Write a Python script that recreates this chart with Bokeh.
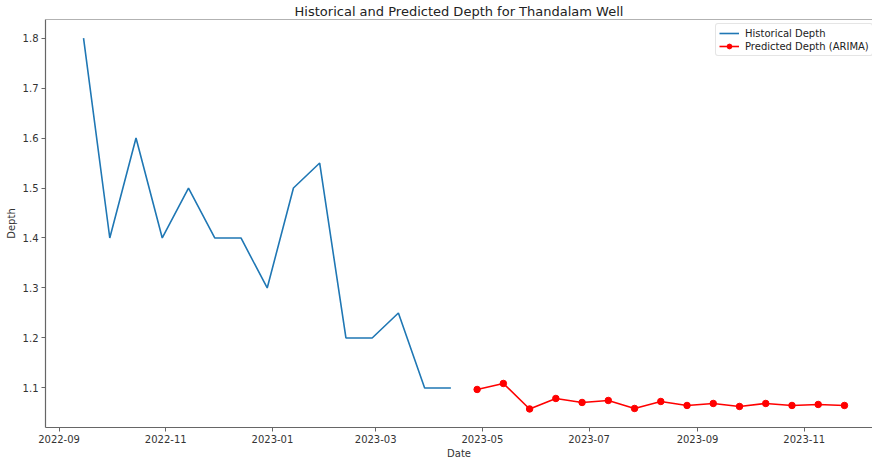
import pandas as pd
from bokeh.plotting import figure
from bokeh.models import (ColumnDataSource, Range1d, FixedTicker, DatetimeTickFormatter,
                          NumeralTickFormatter, Span, Legend, LegendItem)
from bokeh.embed import file_html
from bokeh.resources import INLINE

# ---------------- data ----------------
hist_dates = ["2022-09-15", "2022-09-30", "2022-10-15", "2022-10-30", "2022-11-14",
              "2022-11-29", "2022-12-14", "2022-12-29", "2023-01-13", "2023-01-28",
              "2023-02-12", "2023-02-27", "2023-03-14", "2023-03-29", "2023-04-13"]
hist_depth = [1.80, 1.40, 1.60, 1.40, 1.50, 1.40, 1.40, 1.30, 1.50, 1.55,
              1.20, 1.20, 1.25, 1.10, 1.10]

pred_dates = ["2023-04-28", "2023-05-13", "2023-05-28", "2023-06-12", "2023-06-27",
              "2023-07-12", "2023-07-27", "2023-08-11", "2023-08-26", "2023-09-10",
              "2023-09-25", "2023-10-10", "2023-10-25", "2023-11-09", "2023-11-24"]
pred_depth = [1.097, 1.109, 1.058, 1.079, 1.071, 1.075, 1.059, 1.073, 1.065, 1.069,
              1.063, 1.069, 1.065, 1.067, 1.065]

x_tick_dates = ["2022-09-01", "2022-11-01", "2023-01-01", "2023-03-01",
                "2023-05-01", "2023-07-01", "2023-09-01", "2023-11-01"]
y_ticks = [1.1, 1.2, 1.3, 1.4, 1.5, 1.6, 1.7, 1.8]

title_text = "Historical and Predicted Depth for Thandalam Well"

# ---------------- build ----------------
hist_src = ColumnDataSource(dict(x=pd.to_datetime(hist_dates), y=hist_depth))
pred_src = ColumnDataSource(dict(x=pd.to_datetime(pred_dates), y=pred_depth))

all_x = pd.to_datetime(hist_dates + pred_dates)
span = all_x.max() - all_x.min()
pad = span * 0.05
x_start = all_x.min() - pad
full_end = all_x.max() + pad
# the reference image is cropped a little on the right
x_end = x_start + (full_end - x_start) * (827.0 / 837.0)

all_y = hist_depth + pred_depth
ypad = (max(all_y) - min(all_y)) * 0.05
y_start = min(all_y) - ypad
y_end = max(all_y) + ypad

FONT = "DejaVu Sans"

p = figure(width=872, height=461, x_axis_type="datetime",
           output_backend="svg", toolbar_location=None,
           x_range=Range1d(x_start, x_end), y_range=Range1d(y_start, y_end),
           min_border_left=45, min_border_right=0, min_border_top=18,
           min_border_bottom=32, background_fill_color="white",
           border_fill_color="white")

p.title.text = title_text
p.title.align = "center"
p.title.text_font = FONT
p.title.text_font_size = "13px"
p.title.text_font_style = "normal"
p.title.text_color = "#222222"
p.title.standoff = 2
p.title.offset = -4

p.grid.visible = False
p.outline_line_color = None

top_spine = Span(location=y_end, dimension="width", line_color="#666666", line_width=1.2)
p.add_layout(top_spine)

for ax in (p.xaxis[0], p.yaxis[0]):
    ax.axis_line_color = "#666666"
    ax.axis_line_width = 1.2
    ax.major_tick_line_color = "#666666"
    ax.major_tick_in = 0
    ax.major_tick_out = 4
    ax.minor_tick_line_color = None
    ax.major_label_text_font = FONT
    ax.major_label_text_font_size = "10px"
    ax.major_label_text_color = "#333333"
    ax.axis_label_text_font = FONT
    ax.axis_label_text_font_size = "10px"
    ax.axis_label_text_font_style = "normal"
    ax.axis_label_text_color = "#333333"

p.xaxis.axis_label = "Date"
p.yaxis.axis_label = "Depth"
p.xaxis.ticker = FixedTicker(ticks=[pd.Timestamp(d).value / 1e6 for d in x_tick_dates])
fmt = "%Y-%m"
p.xaxis.formatter = DatetimeTickFormatter(years=fmt, months=fmt, days=fmt, hours=fmt,
                                          minutes=fmt, seconds=fmt, milliseconds=fmt,
                                          microseconds=fmt, hourmin=fmt, minsec=fmt)
p.yaxis.ticker = FixedTicker(ticks=y_ticks)
p.yaxis.formatter = NumeralTickFormatter(format="0.0")
p.xaxis.major_label_standoff = 3
p.yaxis.major_label_standoff = 3
p.xaxis.axis_label_standoff = 2
p.yaxis.axis_label_standoff = 3

h_line = p.line("x", "y", source=hist_src, line_color="#1f77b4", line_width=1.6)
p_line = p.line("x", "y", source=pred_src, line_color="red", line_width=1.6)
p_pts = p.scatter("x", "y", source=pred_src, size=6.5, fill_color="red", line_color="red")

legend = Legend(items=[LegendItem(label="Historical Depth", renderers=[h_line]),
                       LegendItem(label="Predicted Depth (ARIMA)", renderers=[p_line, p_pts])],
                location=(670, 371))
legend.label_text_font = FONT
legend.label_text_font_size = "10px"
legend.label_text_color = "#222222"
legend.label_height = 12
legend.label_standoff = 6
legend.glyph_height = 12
legend.glyph_width = 20
legend.spacing = 1
legend.padding = 3
legend.margin = 0
legend.border_line_color = "#cccccc"
legend.border_line_width = 1
legend.border_radius = 3
legend.background_fill_alpha = 0.9
p.add_layout(legend)

open("out.html", "w").write(file_html(p, INLINE))
